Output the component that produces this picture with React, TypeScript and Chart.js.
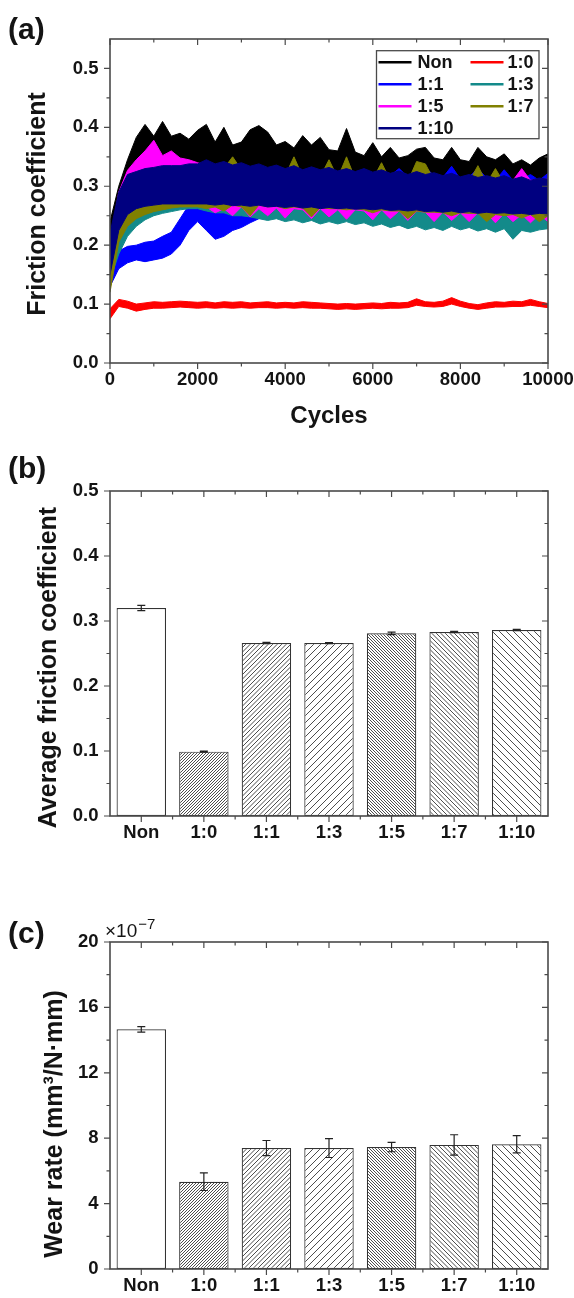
import React, { useEffect, useRef } from 'react';
import { Chart, registerables } from 'chart.js';

Chart.register(...registerables);

const FONT = "'Liberation Sans', Arial, Helvetica, sans-serif";
const AXIS = '#4a4a4a';
const INK = '#141414';

// ---------------- (a) friction coefficient vs cycles ----------------
// each series: upper (Hi) and lower (Lo) edge of the noisy trace, read every 200 cycles
const cycles = [0, 200, 400, 600, 800, 1000, 1200, 1400, 1600, 1800, 2000, 2200, 2400, 2600, 2800, 3000, 3200, 3400, 3600, 3800, 4000, 4200, 4400, 4600, 4800, 5000, 5200, 5400, 5600, 5800, 6000, 6200, 6400, 6600, 6800, 7000, 7200, 7400, 7600, 7800, 8000, 8200, 8400, 8600, 8800, 9000, 9200, 9400, 9600, 9800, 10000];

const nonHi = [0.24, 0.30, 0.345, 0.383, 0.405, 0.385, 0.41, 0.385, 0.39, 0.38, 0.395, 0.405, 0.375, 0.40, 0.37, 0.375, 0.396, 0.403, 0.392, 0.37, 0.376, 0.365, 0.386, 0.37, 0.383, 0.362, 0.36, 0.398, 0.358, 0.352, 0.374, 0.35, 0.366, 0.348, 0.352, 0.363, 0.366, 0.348, 0.345, 0.366, 0.345, 0.342, 0.366, 0.35, 0.345, 0.355, 0.338, 0.345, 0.336, 0.348, 0.355];
const nonLo = [0.21, 0.25, 0.29, 0.31, 0.32, 0.325, 0.325, 0.325, 0.325, 0.32, 0.32, 0.32, 0.318, 0.318, 0.315, 0.315, 0.315, 0.312, 0.312, 0.31, 0.31, 0.31, 0.308, 0.308, 0.305, 0.305, 0.305, 0.303, 0.303, 0.30, 0.30, 0.30, 0.30, 0.298, 0.298, 0.298, 0.296, 0.296, 0.295, 0.295, 0.295, 0.293, 0.293, 0.292, 0.292, 0.29, 0.29, 0.29, 0.29, 0.29, 0.29];

const r10Hi = [0.092, 0.108, 0.105, 0.100, 0.102, 0.104, 0.103, 0.104, 0.105, 0.104, 0.103, 0.104, 0.102, 0.104, 0.103, 0.104, 0.102, 0.103, 0.104, 0.102, 0.103, 0.102, 0.104, 0.103, 0.102, 0.101, 0.100, 0.101, 0.100, 0.101, 0.102, 0.101, 0.103, 0.102, 0.103, 0.109, 0.104, 0.103, 0.105, 0.111, 0.105, 0.101, 0.099, 0.102, 0.104, 0.103, 0.105, 0.104, 0.108, 0.104, 0.101];
const r10Lo = [0.075, 0.096, 0.093, 0.088, 0.091, 0.093, 0.093, 0.094, 0.095, 0.094, 0.093, 0.094, 0.093, 0.094, 0.093, 0.094, 0.093, 0.094, 0.094, 0.093, 0.094, 0.093, 0.094, 0.093, 0.093, 0.092, 0.091, 0.092, 0.091, 0.092, 0.093, 0.092, 0.093, 0.093, 0.094, 0.098, 0.096, 0.095, 0.096, 0.100, 0.096, 0.093, 0.091, 0.093, 0.095, 0.095, 0.096, 0.096, 0.098, 0.096, 0.094];

const r11Hi = [0.16, 0.19, 0.198, 0.20, 0.205, 0.207, 0.215, 0.222, 0.245, 0.268, 0.29, 0.30, 0.31, 0.315, 0.318, 0.32, 0.322, 0.325, 0.322, 0.325, 0.322, 0.325, 0.32, 0.325, 0.322, 0.325, 0.32, 0.325, 0.322, 0.325, 0.32, 0.326, 0.318, 0.33, 0.316, 0.32, 0.332, 0.318, 0.315, 0.334, 0.312, 0.316, 0.33, 0.314, 0.31, 0.328, 0.31, 0.312, 0.32, 0.31, 0.322];
const r11Lo = [0.13, 0.16, 0.17, 0.175, 0.172, 0.175, 0.178, 0.185, 0.20, 0.225, 0.24, 0.225, 0.21, 0.215, 0.225, 0.23, 0.238, 0.245, 0.25, 0.252, 0.255, 0.255, 0.256, 0.256, 0.258, 0.258, 0.258, 0.258, 0.258, 0.258, 0.256, 0.256, 0.256, 0.255, 0.255, 0.255, 0.254, 0.254, 0.254, 0.253, 0.253, 0.253, 0.252, 0.252, 0.252, 0.251, 0.251, 0.25, 0.25, 0.25, 0.25];

const r13Hi = [0.16, 0.22, 0.25, 0.262, 0.268, 0.272, 0.275, 0.278, 0.282, 0.285, 0.29, 0.295, 0.30, 0.302, 0.305, 0.305, 0.305, 0.305, 0.305, 0.305, 0.305, 0.303, 0.303, 0.303, 0.302, 0.302, 0.30, 0.30, 0.30, 0.30, 0.30, 0.298, 0.298, 0.298, 0.298, 0.296, 0.296, 0.296, 0.295, 0.295, 0.295, 0.294, 0.294, 0.293, 0.293, 0.292, 0.292, 0.29, 0.29, 0.29, 0.29];
const r13Lo = [0.14, 0.185, 0.215, 0.232, 0.243, 0.25, 0.254, 0.257, 0.26, 0.262, 0.262, 0.258, 0.255, 0.255, 0.25, 0.25, 0.248, 0.245, 0.242, 0.245, 0.24, 0.243, 0.238, 0.242, 0.236, 0.24, 0.236, 0.24, 0.235, 0.238, 0.232, 0.236, 0.23, 0.234, 0.228, 0.232, 0.226, 0.23, 0.225, 0.232, 0.226, 0.23, 0.224, 0.228, 0.222, 0.228, 0.21, 0.225, 0.222, 0.226, 0.228];

const r15Hi = [0.20, 0.29, 0.327, 0.345, 0.36, 0.378, 0.352, 0.36, 0.348, 0.345, 0.34, 0.335, 0.33, 0.332, 0.328, 0.33, 0.326, 0.33, 0.325, 0.328, 0.324, 0.328, 0.322, 0.326, 0.322, 0.325, 0.32, 0.324, 0.32, 0.322, 0.318, 0.322, 0.318, 0.32, 0.316, 0.32, 0.315, 0.318, 0.315, 0.318, 0.314, 0.318, 0.312, 0.316, 0.312, 0.315, 0.31, 0.33, 0.31, 0.312, 0.312];
const r15Lo = [0.13, 0.22, 0.255, 0.265, 0.27, 0.272, 0.272, 0.272, 0.272, 0.27, 0.268, 0.265, 0.255, 0.262, 0.25, 0.265, 0.248, 0.262, 0.25, 0.263, 0.246, 0.262, 0.26, 0.245, 0.262, 0.248, 0.26, 0.244, 0.26, 0.258, 0.243, 0.26, 0.245, 0.258, 0.242, 0.258, 0.256, 0.24, 0.256, 0.242, 0.255, 0.24, 0.255, 0.254, 0.238, 0.254, 0.24, 0.252, 0.238, 0.252, 0.24];

const r17Hi = [0.16, 0.235, 0.258, 0.268, 0.272, 0.276, 0.28, 0.285, 0.295, 0.305, 0.315, 0.33, 0.325, 0.33, 0.35, 0.328, 0.322, 0.325, 0.32, 0.322, 0.318, 0.35, 0.316, 0.32, 0.316, 0.345, 0.314, 0.35, 0.312, 0.316, 0.312, 0.34, 0.31, 0.312, 0.308, 0.342, 0.338, 0.31, 0.306, 0.31, 0.305, 0.308, 0.335, 0.305, 0.33, 0.305, 0.308, 0.302, 0.305, 0.30, 0.305];
const r17Lo = [0.12, 0.205, 0.232, 0.245, 0.252, 0.257, 0.26, 0.263, 0.265, 0.265, 0.265, 0.262, 0.265, 0.258, 0.268, 0.265, 0.25, 0.268, 0.265, 0.266, 0.262, 0.265, 0.263, 0.248, 0.264, 0.262, 0.262, 0.26, 0.262, 0.26, 0.255, 0.26, 0.258, 0.258, 0.245, 0.258, 0.256, 0.256, 0.255, 0.25, 0.255, 0.254, 0.254, 0.24, 0.252, 0.25, 0.252, 0.246, 0.252, 0.24, 0.25];

const r110Hi = [0.22, 0.29, 0.32, 0.325, 0.33, 0.332, 0.335, 0.335, 0.335, 0.338, 0.338, 0.345, 0.338, 0.342, 0.336, 0.34, 0.334, 0.338, 0.332, 0.336, 0.33, 0.335, 0.328, 0.333, 0.328, 0.332, 0.326, 0.33, 0.325, 0.33, 0.324, 0.328, 0.322, 0.326, 0.32, 0.325, 0.32, 0.323, 0.318, 0.322, 0.316, 0.32, 0.315, 0.318, 0.314, 0.318, 0.312, 0.316, 0.31, 0.314, 0.312];
const r110Lo = [0.15, 0.225, 0.252, 0.262, 0.266, 0.268, 0.27, 0.27, 0.27, 0.27, 0.27, 0.27, 0.268, 0.27, 0.267, 0.268, 0.266, 0.268, 0.265, 0.266, 0.264, 0.266, 0.263, 0.265, 0.262, 0.264, 0.262, 0.263, 0.261, 0.262, 0.26, 0.262, 0.259, 0.26, 0.258, 0.26, 0.257, 0.258, 0.256, 0.258, 0.255, 0.257, 0.254, 0.256, 0.254, 0.255, 0.253, 0.254, 0.252, 0.254, 0.253];

const seriesLabels = ['Non', '1:0', '1:1', '1:3', '1:5', '1:7', '1:10'];
const seriesHi = [nonHi, r10Hi, r11Hi, r13Hi, r15Hi, r17Hi, r110Hi];
const seriesLo = [nonLo, r10Lo, r11Lo, r13Lo, r15Lo, r17Lo, r110Lo];
const seriesColors = ['#000000', '#ff0000', '#0000ff', '#138a8a', '#ff00ff', '#808000', '#000080'];

const frictionTicksX = 2000;
const frictionTicksY = 0.1;

// ---------------- (b), (c) bar charts ----------------
const barCategories = ['Non', '1:0', '1:1', '1:3', '1:5', '1:7', '1:10'];
const avgFriction = [0.32, 0.099, 0.266, 0.266, 0.281, 0.283, 0.286];
const avgFrictionErr = [0.004, 0.0008, 0.001, 0.0008, 0.002, 0.001, 0.001];
const wearRate = [14.66, 5.34, 7.40, 7.40, 7.46, 7.59, 7.63];
const wearRateErr = [0.17, 0.54, 0.46, 0.58, 0.29, 0.62, 0.53];

// hatch style per category (spacing in px, direction)
const hatchStyles: (null | { s: number; dir: '/' | '\\' })[] = [
  null,
  { s: 3, dir: '/' },
  { s: 4.5, dir: '/' },
  { s: 7, dir: '/' },
  { s: 3, dir: '\\' },
  { s: 4.5, dir: '\\' },
  { s: 7, dir: '\\' },
];

function makeHatch(ctx: CanvasRenderingContext2D, spacing: number, dir: string) {
  const tile = Number.isInteger(spacing) ? spacing : Math.round(spacing * 2);
  const c = document.createElement('canvas');
  c.width = tile;
  c.height = tile;
  const g = c.getContext('2d') as CanvasRenderingContext2D;
  g.fillStyle = '#ffffff';
  g.fillRect(0, 0, tile, tile);
  g.strokeStyle = '#4d4d4d';
  g.lineWidth = 1;
  g.beginPath();
  for (let k = -tile; k <= 2 * tile + 0.01; k += spacing) {
    if (dir === '/') {
      g.moveTo(k + 1, -1);
      g.lineTo(k - tile - 1, tile + 1);
    } else {
      g.moveTo(k - 1, -1);
      g.lineTo(k + tile + 1, tile + 1);
    }
  }
  g.stroke();
  return ctx.createPattern(c, 'repeat') as CanvasPattern;
}

// ---------------- plugins ----------------
function frameTicksPlugin() {
  return {
    id: 'frameTicks',
    afterDatasetsDraw(chart: any) {
      const { ctx, chartArea: a } = chart;
      const xs = chart.scales.x;
      const ys = chart.scales.y;
      const yMaj: number[] = ys.ticks.map((t: any) => t.value);
      const xMaj: number[] = xs.ticks.map((t: any) => t.value);
      const mids = (v: number[]) => v.slice(1).map((m, i) => (m + v[i]) / 2);
      ctx.save();
      ctx.strokeStyle = AXIS;
      ctx.lineWidth = 1.2;
      ctx.beginPath();
      const tickY = (vals: number[], len: number) =>
        vals.forEach((v) => {
          const p = ys.getPixelForValue(v);
          ctx.moveTo(a.left - len, p);
          ctx.lineTo(a.left, p);
          ctx.moveTo(a.right, p);
          ctx.lineTo(a.right - len, p);
        });
      const tickX = (vals: number[], len: number) =>
        vals.forEach((v) => {
          const p = xs.getPixelForValue(v);
          ctx.moveTo(p, a.bottom);
          ctx.lineTo(p, a.bottom + len);
          ctx.moveTo(p, a.top);
          ctx.lineTo(p, a.top + len);
        });
      tickY(yMaj, 6);
      tickY(mids(yMaj), 3.5);
      tickX(xMaj, 6);
      tickX(mids(xMaj), 3.5);
      ctx.stroke();
      ctx.lineWidth = 1.6;
      ctx.strokeRect(a.left, a.top, a.right - a.left, a.bottom - a.top);
      ctx.restore();
    },
  };
}

type TextItem = {
  text: string;
  x: number;
  y: number;
  size: number;
  weight?: string;
  rotate?: boolean;
  align?: CanvasTextAlign;
  sup?: string;
  supSize?: number;
};

function textPlugin(items: TextItem[]) {
  return {
    id: 'texts',
    afterDraw(chart: any) {
      const ctx: CanvasRenderingContext2D = chart.ctx;
      items.forEach((it) => {
        ctx.save();
        ctx.fillStyle = INK;
        const w = it.weight || 'bold';
        ctx.font = `${w} ${it.size}px ${FONT}`;
        ctx.textBaseline = 'middle';
        ctx.textAlign = it.align || 'left';
        ctx.translate(it.x, it.y);
        if (it.rotate) ctx.rotate(-Math.PI / 2);
        ctx.fillText(it.text, 0, 0);
        if (it.sup) {
          const tw = ctx.measureText(it.text).width;
          ctx.font = `${w} ${it.supSize || 12}px ${FONT}`;
          ctx.textAlign = 'left';
          ctx.fillText(it.sup, tw + 1, -7);
        }
        ctx.restore();
      });
    },
  };
}

function legendPlugin(labels: string[], colors: string[]) {
  return {
    id: 'boxLegend',
    afterDraw(chart: any) {
      const { ctx, chartArea: a } = chart;
      const left = a.right - 171.5;
      const top = a.top + 11.7;
      const w = 162.5;
      const h = 88;
      ctx.save();
      ctx.fillStyle = '#ffffff';
      ctx.fillRect(left, top, w, h);
      ctx.strokeStyle = AXIS;
      ctx.lineWidth = 1.3;
      ctx.strokeRect(left, top, w, h);
      ctx.font = `bold 18px ${FONT}`;
      ctx.textBaseline = 'middle';
      ctx.textAlign = 'left';
      labels.forEach((lab, i) => {
        const col = i % 2;
        const row = Math.floor(i / 2);
        const cy = top + 11.5 + row * 22;
        const x0 = col === 0 ? left + 2 : left + 94;
        const x1 = col === 0 ? left + 35 : left + 127;
        const tx = col === 0 ? left + 41 : left + 131;
        ctx.strokeStyle = colors[i];
        ctx.lineWidth = 2.6;
        ctx.beginPath();
        ctx.moveTo(x0, cy);
        ctx.lineTo(x1, cy);
        ctx.stroke();
        ctx.fillStyle = INK;
        ctx.fillText(lab, tx, cy + 1);
      });
      ctx.restore();
    },
  };
}

function errorBarPlugin(values: number[], errors: number[]) {
  return {
    id: 'errorBars',
    afterDatasetsDraw(chart: any) {
      const { ctx } = chart;
      const ys = chart.scales.y;
      const meta = chart.getDatasetMeta(0);
      ctx.save();
      ctx.strokeStyle = '#222222';
      ctx.lineWidth = 1.2;
      ctx.beginPath();
      meta.data.forEach((bar: any, i: number) => {
        const x = bar.x;
        const t = ys.getPixelForValue(values[i] + errors[i]);
        const b = ys.getPixelForValue(values[i] - errors[i]);
        ctx.moveTo(x, t);
        ctx.lineTo(x, b);
        ctx.moveTo(x - 4, t);
        ctx.lineTo(x + 4, t);
        ctx.moveTo(x - 4, b);
        ctx.lineTo(x + 4, b);
      });
      ctx.stroke();
      ctx.restore();
    },
  };
}

const tickFont = { family: FONT, size: 18.5, weight: 'bold' as const };

// ---------------- configs ----------------
function configA(): any {
  const datasets: any[] = [];
  seriesLabels.forEach((label, s) => {
    const color = seriesColors[s];
    datasets.push({
      label,
      data: cycles.map((c, i) => ({ x: c, y: seriesHi[s][i] })),
      borderColor: color,
      backgroundColor: color,
      borderWidth: 1,
      pointRadius: 0,
      tension: 0,
      fill: '+1',
      order: 10 - s,
    });
    datasets.push({
      label: label + ' min',
      data: cycles.map((c, i) => ({ x: c, y: seriesLo[s][i] })),
      borderColor: color,
      backgroundColor: color,
      borderWidth: 1,
      pointRadius: 0,
      tension: 0,
      fill: false,
      order: 10 - s,
    });
  });
  return {
    type: 'line',
    data: { datasets },
    options: {
      responsive: false,
      animation: false,
      events: [],
      layout: { padding: { left: 0, right: 26, top: 39, bottom: 0 } },
      plugins: { legend: { display: false }, tooltip: { enabled: false } },
      scales: {
        x: {
          type: 'linear',
          min: 0,
          max: 10000,
          grid: { display: false, drawTicks: false },
          border: { display: false },
          ticks: {
            stepSize: frictionTicksX,
            padding: 6,
            font: tickFont,
            color: INK,
            maxRotation: 0,
            autoSkip: false,
            includeBounds: false,
            callback: (v: any) => String(v),
          },
          title: {
            display: true,
            text: 'Cycles',
            color: INK,
            font: { family: FONT, size: 24, weight: 'bold' },
            padding: { top: 0, bottom: 9 },
          },
          afterFit: (s: any) => {
            s.height = 77;
            s.paddingLeft = 0;
            s.paddingRight = 0;
          },
        },
        y: {
          type: 'linear',
          min: 0,
          max: 0.55,
          grid: { display: false, drawTicks: false },
          border: { display: false },
          ticks: {
            stepSize: frictionTicksY,
            padding: 11.5,
            font: tickFont,
            color: INK,
            includeBounds: false,
            callback: (v: any) => Number(v).toFixed(1),
          },
          afterFit: (s: any) => {
            s.width = 110;
            s.paddingTop = 0;
            s.paddingBottom = 0;
          },
        },
      },
    },
    plugins: [
      frameTicksPlugin(),
      legendPlugin(seriesLabels, seriesColors),
      textPlugin([
        { text: '(a)', x: 8, y: 31, size: 30 },
        { text: 'Friction coefficient', x: 38.6, y: 204, size: 25, rotate: true, align: 'center' },
      ]),
    ],
  };
}

function barConfig(
  ctx: CanvasRenderingContext2D,
  values: number[],
  errors: number[],
  yMax: number,
  yStep: number,
  decimals: number,
  padTop: number,
  xHeight: number,
  texts: TextItem[]
): any {
  const fills = hatchStyles.map((h) => (h ? makeHatch(ctx, h.s, h.dir) : '#ffffff'));
  return {
    type: 'bar',
    data: {
      labels: barCategories,
      datasets: [
        {
          data: values,
          backgroundColor: fills,
          borderColor: '#333333',
          borderWidth: 1.2,
          borderSkipped: false,
          barPercentage: 0.79,
          categoryPercentage: 1,
        },
      ],
    },
    options: {
      responsive: false,
      animation: false,
      events: [],
      layout: { padding: { left: 0, right: 26, top: padTop, bottom: 0 } },
      plugins: { legend: { display: false }, tooltip: { enabled: false } },
      scales: {
        x: {
          type: 'category',
          grid: { display: false, drawTicks: false },
          border: { display: false },
          ticks: { padding: 6.3, font: tickFont, color: INK, maxRotation: 0, autoSkip: false },
          afterFit: (s: any) => {
            s.height = xHeight;
            s.paddingLeft = 0;
            s.paddingRight = 0;
          },
        },
        y: {
          type: 'linear',
          min: 0,
          max: yMax,
          grid: { display: false, drawTicks: false },
          border: { display: false },
          ticks: {
            stepSize: yStep,
            padding: 11.5,
            font: tickFont,
            color: INK,
            callback: (v: any) => Number(v).toFixed(decimals),
          },
          afterFit: (s: any) => {
            s.width = 110;
            s.paddingTop = 0;
            s.paddingBottom = 0;
          },
        },
      },
    },
    plugins: [errorBarPlugin(values, errors), frameTicksPlugin(), textPlugin(texts)],
  };
}

export default function App() {
  const refA = useRef<HTMLCanvasElement | null>(null);
  const refB = useRef<HTMLCanvasElement | null>(null);
  const refC = useRef<HTMLCanvasElement | null>(null);

  useEffect(() => {
    const a = refA.current as HTMLCanvasElement;
    const b = refB.current as HTMLCanvasElement;
    const c = refC.current as HTMLCanvasElement;
    const charts: Chart[] = [];
    charts.push(new Chart(a, configA()));
    charts.push(
      new Chart(
        b,
        barConfig(b.getContext('2d') as CanvasRenderingContext2D, avgFriction, avgFrictionErr, 0.5, 0.1, 1, 51, 44, [
          { text: '(b)', x: 8, y: 30, size: 30 },
          { text: 'Average friction coefficient', x: 49.6, y: 227.5, size: 25, rotate: true, align: 'center' },
        ])
      )
    );
    charts.push(
      new Chart(
        c,
        barConfig(c.getContext('2d') as CanvasRenderingContext2D, wearRate, wearRateErr, 20, 4, 0, 82, 29, [
          { text: '(c)', x: 8, y: 75, size: 30 },
          { text: 'Wear rate (mm³/N·mm)', x: 55, y: 264, size: 25, rotate: true, align: 'center' },
          { text: '×10', x: 105, y: 72, size: 19, weight: 'normal', sup: '−7', supSize: 15 },
        ])
      )
    );
    return () => charts.forEach((ch) => ch.destroy());
  }, []);

  return (
    <div style={{ position: 'absolute', left: 0, top: 0, width: 574, height: 1298, background: '#ffffff', overflow: 'hidden' }}>
      <canvas ref={refA} width={574} height={440} style={{ position: 'absolute', left: 0, top: 0 }} />
      <canvas ref={refB} width={574} height={420} style={{ position: 'absolute', left: 0, top: 440 }} />
      <canvas ref={refC} width={574} height={438} style={{ position: 'absolute', left: 0, top: 860 }} />
    </div>
  );
}
